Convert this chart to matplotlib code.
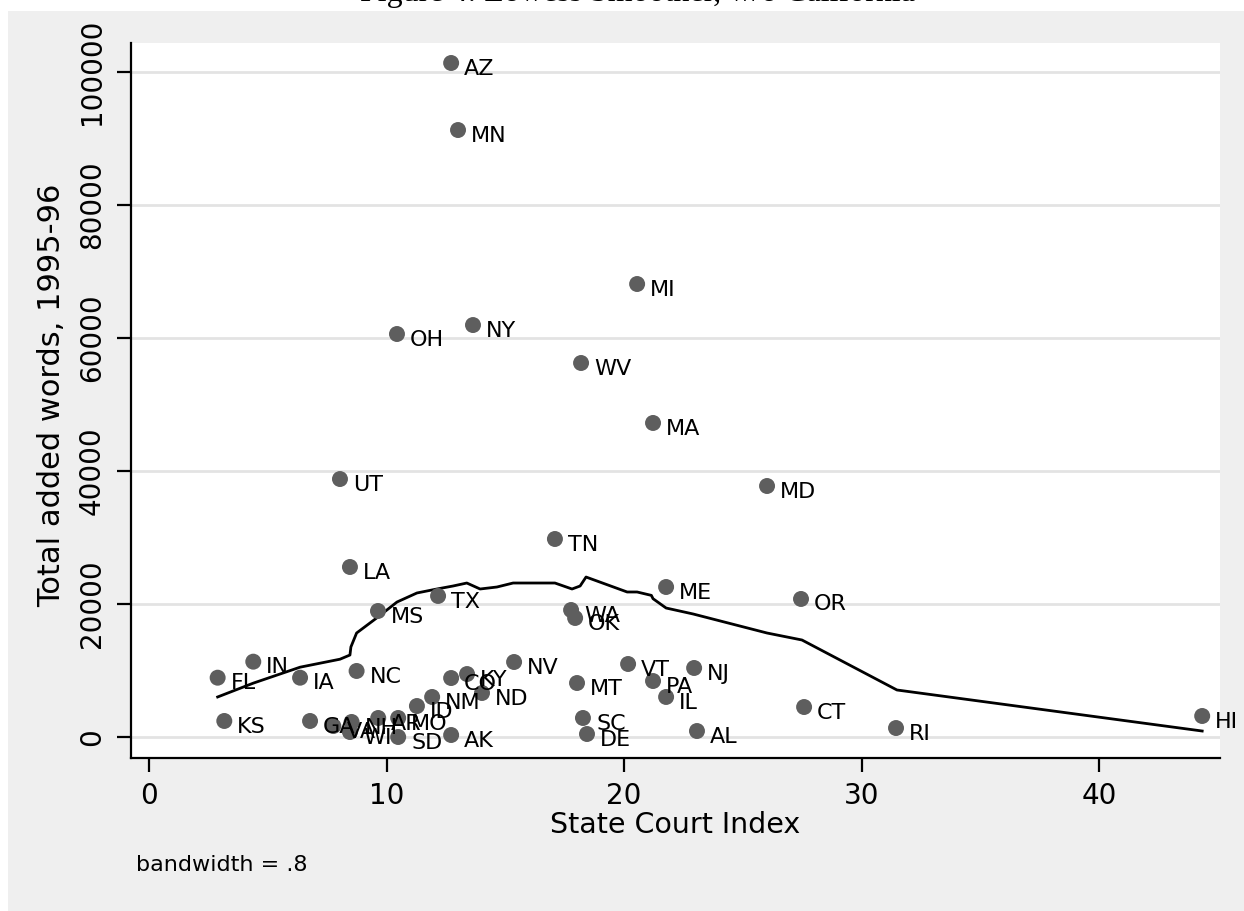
import matplotlib
matplotlib.use("Agg")
import matplotlib.pyplot as plt
from matplotlib.patches import Rectangle

# ---- data ----
states = ["AZ", "MN", "MI", "NY", "OH", "WV", "MA", "UT", "MD", "TN",
          "LA", "ME", "TX", "OR", "MS", "WA", "OK", "IN", "NV", "FL",
          "NC", "IA", "CO", "KY", "VT", "NJ", "PA", "MT", "ND", "NM",
          "IL", "ID", "CT", "KS", "GA", "VA", "NH", "WI", "AR", "MO",
          "SC", "SD", "AK", "DE", "AL", "RI", "HI"]
court_index = [12.72, 13.01, 20.55, 13.64, 10.44, 18.19, 21.22, 8.04, 26.02, 17.09,
               8.46, 21.77, 12.17, 27.45, 9.64, 17.77, 17.94, 4.39, 15.37, 2.89,
               8.74, 6.36, 12.72, 13.39, 20.17, 22.95, 21.22, 18.02, 14.02, 11.92,
               21.77, 11.28, 27.58, 3.17, 6.78, 7.76, 8.53, 8.46, 9.65, 10.49,
               18.27, 10.49, 12.72, 18.44, 23.07, 31.45, 44.34]
added_words = [101370, 91290, 68130, 61960, 60610, 56250, 47230, 38800, 37750, 29780,
               25570, 22560, 21210, 20760, 18950, 19100, 17900, 11330, 11280, 8920,
               9930, 8920, 8870, 9470, 10980, 10380, 8420, 8120, 6620, 6020,
               6020, 4660, 4510, 2410, 2410, 1650, 2260, 750, 2860, 2860,
               2860, 0, 300, 450, 900, 1350, 3160]

# lowess (bandwidth = .8) curve
lowess_x = [2.89, 4.39, 6.36, 8.04, 8.46, 8.50, 8.74, 9.64, 10.44, 11.28, 12.12,
            12.80, 13.38, 13.94, 14.65, 15.33, 17.09, 17.81, 18.15, 18.40, 20.13,
            20.55, 21.15, 21.22, 21.77, 22.91, 26.02, 27.49, 31.49, 44.34]
lowess_y = [6020, 8100, 10500, 11700, 12330, 13540, 15640, 18050, 20300, 21660, 22260,
            22710, 23160, 22260, 22560, 23160, 23160, 22260, 22710, 24060, 21810,
            21810, 21300, 20800, 19400, 18500, 15640, 14590, 7070, 900]

x_ticks = [0, 10, 20, 30, 40]
y_ticks = [0, 20000, 40000, 60000, 80000, 100000]

title_text = "Figure 4: Lowess Smoother, w/o California"
x_label = "State Court Index"
y_label = "Total added words, 1995-96"
note_text = "bandwidth = .8"

# ---- figure ----
W, H = 1244, 911
fig = plt.figure(figsize=(W / 100, H / 100), dpi=100, facecolor="white")
font = ["DejaVu Sans"]

# grey graph region
fig.patches.append(Rectangle((8 / W, 0), 1 - 8 / W, 1 - 11 / H, transform=fig.transFigure,
                             facecolor="#efefef", edgecolor="none", zorder=-10))

# title, cut off at the very top of the picture
fig.text(360 / W, 1 - 1 / H, title_text, ha="left", va="baseline",
         fontsize=23, family=["Liberation Serif", "DejaVu Serif"])

ax_l, ax_r, ax_t, ax_b = 131, 1220, 43, 758
ax = fig.add_axes([ax_l / W, 1 - ax_b / H, (ax_r - ax_l) / W, (ax_b - ax_t) / H])
ax.set_facecolor("white")
ax.set_xlim(-0.758, 45.09)
ax.set_ylim(-3158, 104378)

for s in ["top", "right"]:
    ax.spines[s].set_visible(False)
for s in ["left", "bottom"]:
    ax.spines[s].set_linewidth(1.6)
    ax.spines[s].set_color("black")

ax.set_yticks(y_ticks)
ax.set_yticklabels([str(v) for v in y_ticks], rotation=90, va="center",
                   fontsize=20, family=font)
ax.set_xticks(x_ticks)
ax.set_xticklabels([str(v) for v in x_ticks], fontsize=20, family=font)
ax.tick_params(axis="both", length=10, width=1.6, color="black")
ax.tick_params(axis="y", pad=8)
ax.tick_params(axis="x", pad=7)

ax.grid(axis="y", color="#e3e3e3", linewidth=2)
ax.set_axisbelow(True)

ax.plot(lowess_x, lowess_y, color="black", linewidth=2.0, zorder=2)
ax.scatter(court_index, added_words, s=11.5 ** 2, color="#5e5e5e",
           edgecolors="none", zorder=3)
for st, xv, yv in zip(states, court_index, added_words):
    ax.annotate(st, (xv, yv), xytext=(9.4, -8.3), textcoords="offset points",
                ha="left", va="baseline", fontsize=16, family=font, zorder=4)

ax.set_xlabel(x_label, fontsize=20.5, family=font)
ax.xaxis.label.set_va("center")
ax.xaxis.set_label_coords(0.5, (ax_b - 825) / (ax_b - ax_t))
ax.set_ylabel(y_label, fontsize=22, family=font)
ax.yaxis.label.set_va("center")
ax.yaxis.set_label_coords((52 - ax_l) / (ax_r - ax_l), (ax_b - 395) / (ax_b - ax_t))

fig.text(136 / W, 1 - 865 / H, note_text, ha="left", va="center",
         fontsize=16, family=font)

fig.savefig("out.png", dpi=100, facecolor=fig.get_facecolor())
